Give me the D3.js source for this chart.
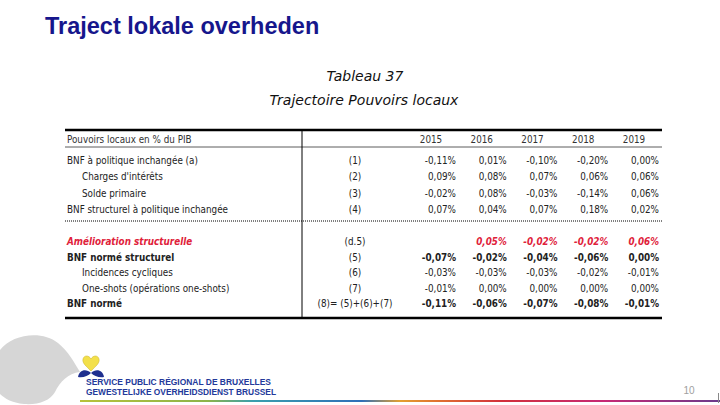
<!DOCTYPE html>
<html>
<head>
<meta charset="utf-8">
<script src="https://cdn.jsdelivr.net/npm/d3@7"></script>
<style>
  html, body { margin: 0; padding: 0; background: #fff; }
  svg { display: block; }
</style>
</head>
<body>
<div id="chart"></div>
<script>
// ---- data ----
const slideTitle = "Traject lokale overheden";
const tableTitle = "Tableau 37";
const tableSubtitle = "Trajectoire Pouvoirs locaux";
const headerLabel = "Pouvoirs locaux en % du PIB";
const years = ["2015", "2016", "2017", "2018", "2019"];

const groupALabels = ["BNF à politique inchangée (a)", "Charges d'intérêts", "Solde primaire", "BNF structurel à politique inchangée"];
const groupARefs = ["(1)", "(2)", "(3)", "(4)"];
const groupAIndent = [false, true, true, false];
const groupAValues = [
  [-0.11, 0.01, -0.10, -0.20, 0.00],
  [0.09, 0.08, 0.07, 0.06, 0.06],
  [-0.02, 0.08, -0.03, -0.14, 0.06],
  [0.07, 0.04, 0.07, 0.18, 0.02]
];

const groupBLabels = ["Amélioration structurelle", "BNF normé structurel", "Incidences cycliques", "One-shots (opérations one-shots)", "BNF normé"];
const groupBRefs = ["(d.5)", "(5)", "(6)", "(7)", "(8)= (5)+(6)+(7)"];
const groupBIndent = [false, false, true, true, false];
const groupBStyle = ["red", "bold", "normal", "normal", "bold"];
const groupBValues = [
  [null, 0.05, -0.02, -0.02, 0.06],
  [-0.07, -0.02, -0.04, -0.06, 0.00],
  [-0.03, -0.03, -0.03, -0.02, -0.01],
  [-0.01, 0.00, 0.00, 0.00, 0.00],
  [-0.11, -0.06, -0.07, -0.08, -0.01]
];

const pageNumber = "10";
const logoLine1 = "SERVICE PUBLIC RÉGIONAL DE BRUXELLES";
const logoLine2 = "GEWESTELIJKE OVERHEIDSDIENST BRUSSEL";

// ---- drawing ----
const W = 720, H = 405;
const svg = d3.select("#chart").append("svg").attr("width", W).attr("height", H);

const tableFont = "'Liberation Sans Narrow','Arial Narrow','DejaVu Sans Condensed',sans-serif";
const fmt = v => (v < 0 ? "-" : "") + Math.abs(v).toFixed(2).replace(".", ",") + "%";

// slide title
svg.append("text").attr("x", 45).attr("y", 34)
  .attr("font-family", "'Liberation Sans',Arial,sans-serif").attr("font-weight", "bold")
  .attr("font-size", 23.5).attr("fill", "#16168c").text(slideTitle);

// table title
svg.append("text").attr("x", 365).attr("y", 81).attr("text-anchor", "middle")
  .attr("font-family", "'DejaVu Sans','Liberation Sans',sans-serif").attr("font-style", "italic")
  .attr("font-size", 14).attr("fill", "#111").text(tableTitle);
svg.append("text").attr("x", 364).attr("y", 105).attr("text-anchor", "middle")
  .attr("font-family", "'DejaVu Sans','Liberation Sans',sans-serif").attr("font-style", "italic")
  .attr("font-size", 14).attr("fill", "#111").text(tableSubtitle);

// scales
const x = d3.scalePoint().domain(years).range([456, 659]);
const yA = d3.scalePoint().domain(d3.range(groupALabels.length)).range([164, 213]);
const yB = d3.scalePoint().domain(d3.range(groupBLabels.length)).range([245, 307]);

const tL = 65, tR = 662, tTop = 130, tBot = 318, vX = 302;
const g = svg.append("g");

// lines
g.append("line").attr("x1", tL).attr("x2", tR).attr("y1", tTop).attr("y2", tTop).attr("stroke", "#000").attr("stroke-width", 2.5);
g.append("line").attr("x1", tL).attr("x2", tR).attr("y1", 147).attr("y2", 147).attr("stroke", "#333").attr("stroke-width", 0.8);
g.append("line").attr("x1", tL).attr("x2", tR).attr("y1", 221).attr("y2", 221).attr("stroke", "#000").attr("stroke-width", 1).attr("stroke-dasharray", "1,1");
g.append("line").attr("x1", tL).attr("x2", tR).attr("y1", tBot).attr("y2", tBot).attr("stroke", "#000").attr("stroke-width", 2.5);
g.append("line").attr("x1", vX).attr("x2", vX).attr("y1", tTop).attr("y2", tBot).attr("stroke", "#000").attr("stroke-width", 1);

// header
g.append("text").attr("x", 67).attr("y", 143).attr("font-family", tableFont).attr("font-size", 9.8).attr("fill", "#333").text(headerLabel);
g.selectAll("text.yr").data(years).join("text").attr("class", "yr")
  .attr("x", d => x(d) - 25).attr("y", 143).attr("text-anchor", "middle")
  .attr("font-family", tableFont).attr("font-size", 9.8).attr("fill", "#333").text(d => d);

function drawRows(labels, refs, indent, values, style, yScale) {
  labels.forEach((lab, i) => {
    const st = style ? style[i] : "normal";
    const col = st === "red" ? "#e0213a" : "#222";
    const fw = st === "normal" ? "normal" : "bold";
    const fs = st === "red" ? "italic" : "normal";
    const y = yScale(i);
    g.append("text").attr("x", indent[i] ? 82 : 67).attr("y", y)
      .attr("font-family", tableFont).attr("font-size", 9.8).attr("fill", col)
      .attr("font-weight", fw).attr("font-style", fs).text(lab);
    g.append("text").attr("x", 355).attr("y", y).attr("text-anchor", "middle")
      .attr("font-family", tableFont).attr("font-size", 9.8).attr("fill", "#222").text(refs[i]);
    g.selectAll(null).data(values[i].map((v, j) => ({ v, yr: years[j] })).filter(d => d.v !== null))
      .join("text").attr("x", d => x(d.yr)).attr("y", y).attr("text-anchor", "end")
      .attr("font-family", tableFont).attr("font-size", 9.8).attr("fill", col)
      .attr("font-weight", fw).attr("font-style", fs).text(d => fmt(d.v));
  });
}
drawRows(groupALabels, groupARefs, groupAIndent, groupAValues, null, yA);
drawRows(groupBLabels, groupBRefs, groupBIndent, groupBValues, groupBStyle, yB);

// logo gray shape
svg.append("path")
  .attr("d", "M0,350 C12,334 42,330 58,343 C68,351 74,362 80,372 C68,373 60,382 55,392 C50,401 38,405 24,404 C12,403 4,398 0,394 Z")
  .attr("fill", "#d6d6d6");
// heart and wings
svg.append("path").attr("d", "M91,371 C86,366 82,363 83,359 C84,355 89,355 91,359 C93,355 98,355 99,359 C100,363 96,366 91,371 Z")
  .attr("fill", "#f3e04a").attr("stroke", "#c8b020").attr("stroke-width", 0.5);
svg.append("path").attr("d", "M78,377 C79,370 86,368 91,373 C88,376 83,378 78,377 Z").attr("fill", "#1f2f8f");
svg.append("path").attr("d", "M104,377 C103,370 96,368 91,373 C94,376 99,378 104,377 Z").attr("fill", "#1f2f8f");
svg.append("text").attr("x", 86).attr("y", 385).attr("font-family", "'Liberation Sans',Arial,sans-serif")
  .attr("font-weight", "bold").attr("font-size", 8.5).attr("fill", "#23399a")
  .attr("textLength", 185).attr("lengthAdjust", "spacingAndGlyphs").text(logoLine1);
svg.append("text").attr("x", 86).attr("y", 395).attr("font-family", "'Liberation Sans',Arial,sans-serif")
  .attr("font-weight", "bold").attr("font-size", 8.5).attr("fill", "#23399a")
  .attr("textLength", 190).attr("lengthAdjust", "spacingAndGlyphs").text(logoLine2);

// page number
svg.append("text").attr("x", 689).attr("y", 394).attr("text-anchor", "middle")
  .attr("font-family", "'Liberation Sans',Arial,sans-serif").attr("font-size", 10).attr("fill", "#a0a0a0").text(pageNumber);

// bottom gradient line
const defs = svg.append("defs");
const grad = defs.append("linearGradient").attr("id", "bar").attr("x1", "0%").attr("x2", "100%");
[[0, "#b7c23a"], [0.2, "#8cb44a"], [0.27, "#3a9fae"], [0.44, "#2f6fb8"], [0.5, "#e3a030"], [0.56, "#e07030"], [0.66, "#d2303c"], [0.82, "#c62a76"], [1, "#6b3a8c"]]
  .forEach(([o, c]) => grad.append("stop").attr("offset", o).attr("stop-color", c));
svg.append("rect").attr("x", 80).attr("y", 400).attr("width", 640).attr("height", 2).attr("fill", "url(#bar)");
svg.append("line").attr("x1", 718.5).attr("x2", 718.5).attr("y1", 393).attr("y2", 403).attr("stroke", "#888").attr("stroke-width", 1);
</script>
</body>
</html>
